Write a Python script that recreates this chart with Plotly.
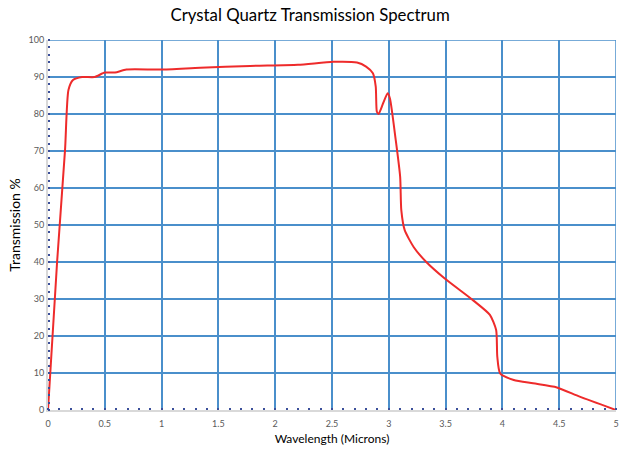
import plotly.graph_objects as go

wavelength = [0, 0.08, 0.15, 0.18, 0.22, 0.30, 0.41, 0.50, 0.59, 0.69, 0.99, 1.34, 1.78, 2.2, 2.51, 2.72, 2.80, 2.86, 2.885,
              2.895, 2.91, 2.95, 2.99, 3.01, 3.06, 3.10, 3.11, 3.14, 3.22, 3.33, 3.49, 3.74, 3.89, 3.945, 3.955,
              3.98, 4.10, 4.27, 4.48, 4.68, 5.0]
transmission = [0, 40, 70.3, 86.5, 89.2, 90, 90, 91.2, 91.2, 92, 92, 92.5, 93, 93.3, 94.1, 93.9, 92.8, 91, 87.4,
                80.6, 80, 82.9, 85.6, 84.2, 73.2, 63, 54, 48.6, 44, 40, 35.6, 29.7, 25.7, 21.6, 14.4,
                9.9, 8.1, 7.2, 6.1, 3.6, 0]

x_ticks = [0, 0.5, 1, 1.5, 2, 2.5, 3, 3.5, 4, 4.5, 5]
x_tick_labels = ["0", "0.5", "1", "1.5", "2", "2.5", "3", "3.5", "4", "4.5", "5"]
y_ticks = list(range(0, 101, 10))

font = "Lato"
grid = "#4A8FCB"

fig = go.Figure()
fig.add_trace(go.Scatter(x=wavelength, y=transmission, mode="lines",
                         line=dict(color="#EE2B2B", width=2, shape="spline", smoothing=0.6),
                         showlegend=False))

# edge gridlines (plotly clips gridlines at the range ends)
fig.add_shape(type="line", xref="x", yref="paper", x0=5, x1=5, y0=0, y1=1,
              line=dict(color=grid, width=1.5), layer="below")
fig.add_shape(type="line", xref="paper", yref="y", x0=0, x1=1, y0=100, y1=100,
              line=dict(color=grid, width=1.5), layer="below")

fig.update_layout(
    width=624, height=452,
    margin=dict(l=48, r=8, t=40, b=42),
    paper_bgcolor="white", plot_bgcolor="white",
    title=dict(text="Crystal Quartz Transmission Spectrum", x=0.497, xanchor="center",
               y=1 - 15 / 452, yanchor="middle", font=dict(family=font, size=16.8, color="#000000")),
    font=dict(family=font),
)
fig.update_xaxes(range=[0, 5], tickvals=x_ticks, ticktext=x_tick_labels, automargin=False,
                 showgrid=True, gridcolor=grid, gridwidth=1.5,
                 showline=True, linecolor="#D9D9D9", linewidth=2,
                 zeroline=False, ticks="", ticklabeloverflow="allow", ticklabelstandoff=4,
                 tickfont=dict(family=font, size=9, color="#595959"),
                 title=dict(text="Wavelength (Microns)", font=dict(family=font, size=12, color="#000000"), standoff=7),
                 minor=dict(dtick=0.1, ticks="inside", ticklen=2, tickcolor="#3B4F9A", tickwidth=1.5, showgrid=False))
fig.update_yaxes(range=[0, 100], tickvals=y_ticks, automargin=False,
                 showgrid=True, gridcolor=grid, gridwidth=1.5,
                 showline=True, linecolor="#D9D9D9", linewidth=2,
                 zeroline=False, ticks="", ticklabeloverflow="allow",
                 tickfont=dict(family=font, size=9, color="#595959"),
                 title=dict(text="Transmission %", font=dict(family=font, size=14, color="#000000"), standoff=5),
                 minor=dict(dtick=2, ticks="inside", ticklen=2, tickcolor="#3B4F9A", tickwidth=1.5, showgrid=False))

# remove the default 8px page margin so the 624x452 figure fills the window exactly
fig.write_html("out.html", config={"displayModeBar": False},
               post_script="document.body.style.margin='0';document.body.style.overflow='hidden';")
